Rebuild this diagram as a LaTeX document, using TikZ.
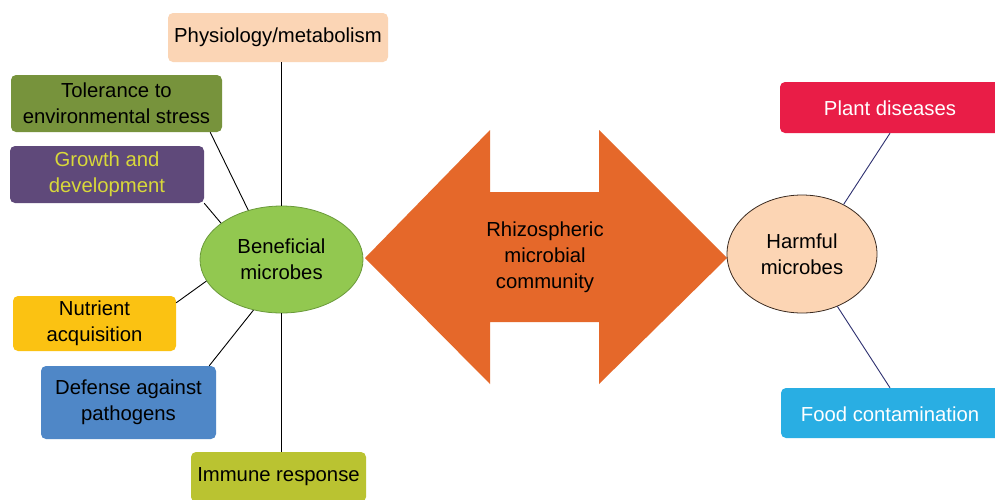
\documentclass[tikz,border=0pt]{standalone}
\usepackage{fontspec}
\setmainfont{Liberation Sans}
\usetikzlibrary{shapes.geometric,calc}
\definecolor{cPeach}{HTML}{FBD5B5}
\definecolor{cOlive}{HTML}{77933C}
\definecolor{cPurple}{HTML}{5F497A}
\definecolor{cPurpleText}{HTML}{D8D83A}
\definecolor{cGold}{HTML}{FBC212}
\definecolor{cBlue}{HTML}{4F87C7}
\definecolor{cLime}{HTML}{BAC331}
\definecolor{cGreen}{HTML}{92C850}
\definecolor{cGreenLine}{HTML}{6A9A3A}
\definecolor{cOrange}{HTML}{E5682A}
\definecolor{cHarm}{HTML}{FCD5B4}
\definecolor{cHarmLine}{HTML}{3A2A20}
\definecolor{cRed}{HTML}{E91D47}
\definecolor{cSky}{HTML}{29AEE3}
\definecolor{cNavy}{HTML}{2E3070}
\tikzset{
  lbl/.style={font=\fontsize{20.3}{26}\selectfont, align=center},
  rbox/.style={lbl, rectangle, rounded corners=5pt, inner sep=0pt},
  blob/.style={lbl, ellipse, inner sep=0pt},
  link/.style={black, line width=0.9pt},
  hlink/.style={cNavy, line width=0.9pt},
}
\begin{document}
\begin{tikzpicture}[x=1pt,y=-1pt]
\clip (0,0) rectangle (995,499);
\fill[white] (0,0) rectangle (995,499);
% central double arrow
\fill[cOrange] (365,258) -- (490,130) -- (490,192) -- (599,192) -- (599,130) -- (727,258)
  -- (599,384) -- (599,322) -- (490,322) -- (490,384) -- cycle;
\node[lbl] (rhi) at (545,257) {Rhizospheric\\microbial\\community};
% beneficial
\node[blob, fill=cGreen, draw=cGreenLine, line width=0.8pt, minimum width=163pt, minimum height=107pt] (ben) at (281.5,259.5) {Beneficial\\microbes};
\node[rbox, fill=cPeach, minimum width=220pt, minimum height=49pt] (phy) at (278,37.5) {\raisebox{-2pt}{Physiology/metabolism}};
\node[rbox, fill=cOlive, minimum width=211pt, minimum height=57pt] (tol) at (116.5,103.5) {Tolerance to\\environmental stress};
\node[rbox, fill=cPurple, text=cPurpleText, minimum width=194pt, minimum height=57pt] (gro) at (107,174.5) {Growth and\\development};
\node[rbox, fill=cGold, minimum width=163pt, minimum height=55pt] (nut) at (94.5,323.5) {Nutrient\\acquisition};
\node[rbox, fill=cBlue, minimum width=175pt, minimum height=73pt] (def) at (128.5,402.5) {Defense against\\pathogens};
\node[rbox, fill=cLime, minimum width=175pt, minimum height=50pt] (imm) at (278.5,477) {Immune response};
\draw[link] (ben.90 |- phy.south) -- (ben.90);
\draw[link] ($(tol.south east)+(-12,0)$) -- (ben.124.6);
\draw[link] (gro.south east) -- (ben.149.3);
\draw[link] ($(nut.north east)+(0,7)$) -- (ben.196.4);
\draw[link] ($(def.north east)+(-7,0)$) -- (ben.241.9);
\draw[link] (ben.270) -- (ben.270 |- imm.north);
% harmful
\node[blob, fill=cHarm, draw=cHarmLine, line width=0.8pt, minimum width=150pt, minimum height=118pt] (har) at (802,254) {Harmful\\microbes};
\node[rbox, fill=cRed, minimum width=226pt, minimum height=51pt] (pla) at (893,107.5) {};
\node[lbl, text=white] (plat) at (890,108.5) {Plant diseases};
\node[rbox, fill=cSky, minimum width=226pt, minimum height=50pt] (foo) at (894,413) {};
\node[lbl, text=white] (foot) at (890,414) {Food contamination};
\draw[hlink] ($(pla.south)+(-3,0)$) -- (har.50);
\draw[hlink] (har.304.2) -- ($(foo.north)+(-4,0)$);
\end{tikzpicture}
\end{document}
